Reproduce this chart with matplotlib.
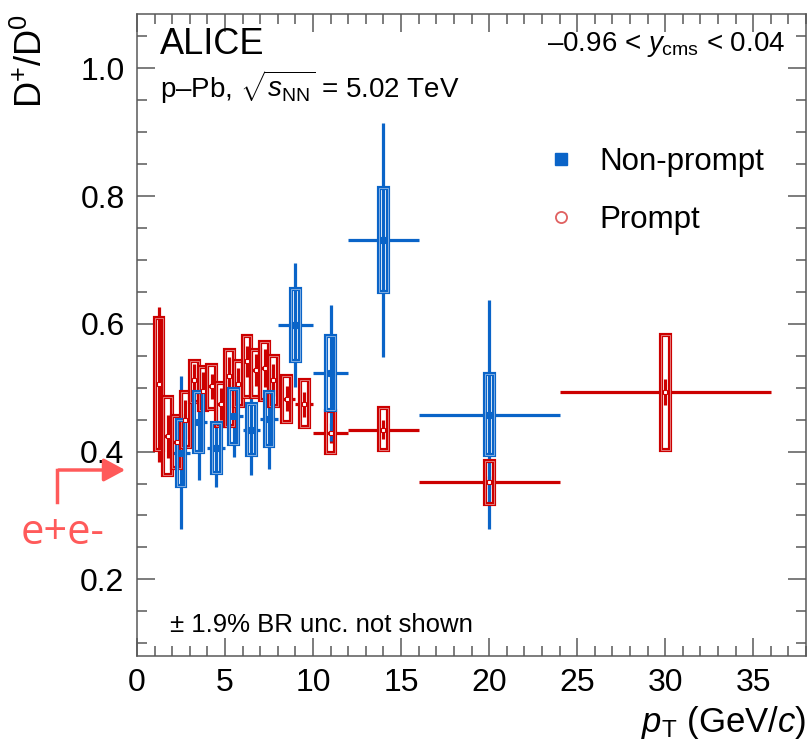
import matplotlib
matplotlib.use("Agg")
import matplotlib.pyplot as plt
from matplotlib.patches import Rectangle, FancyArrowPatch
from matplotlib.lines import Line2D
from matplotlib.ticker import MultipleLocator

plt.rcParams['font.family'] = ['Liberation Sans', 'DejaVu Sans']
plt.rcParams['mathtext.fontset'] = 'custom'
plt.rcParams['mathtext.rm'] = 'Liberation Sans'
plt.rcParams['mathtext.it'] = 'Liberation Sans:italic'

# prompt D+/D0
prompt_pt = [1.25, 1.75, 2.25, 2.75, 3.25, 3.75, 4.25, 4.75, 5.25, 5.75,
             6.25, 6.75, 7.25, 7.75, 8.5, 9.5, 11, 14, 20, 30]
prompt_xerr = [0.25] * 14 + [0.5, 0.5, 1, 2, 4, 6]
prompt_val = [0.505, 0.424, 0.415, 0.450, 0.512, 0.495, 0.502, 0.475, 0.518, 0.506,
              0.541, 0.528, 0.531, 0.512, 0.483, 0.474, 0.429, 0.434, 0.352, 0.493]
prompt_stat = [0.122, 0.034, 0.035, 0.030, 0.025, 0.030, 0.020, 0.025, 0.030, 0.025,
               0.024, 0.025, 0.030, 0.025, 0.020, 0.020, 0.015, 0.015, 0.010, 0.020]
prompt_sys_lo = [0.102, 0.060, 0.040, 0.043, 0.035, 0.030, 0.036, 0.035, 0.078, 0.035,
                 0.055, 0.042, 0.050, 0.041, 0.036, 0.036, 0.031, 0.032, 0.034, 0.090]
prompt_sys_hi = [0.104, 0.062, 0.040, 0.043, 0.030, 0.038, 0.034, 0.032, 0.041, 0.035,
                 0.040, 0.031, 0.041, 0.037, 0.036, 0.038, 0.034, 0.034, 0.034, 0.089]

# non-prompt D+/D0
nonprompt_pt = [2.5, 3.5, 4.5, 5.5, 6.5, 7.5, 9, 11, 14, 20]
nonprompt_xerr = [0.5] * 6 + [1, 1, 2, 4]
nonprompt_val = [0.398, 0.446, 0.405, 0.455, 0.434, 0.451, 0.598, 0.523, 0.731, 0.458]
nonprompt_stat = [0.120, 0.090, 0.060, 0.064, 0.070, 0.079, 0.097, 0.107, 0.183, 0.180]
nonprompt_sys = [0.052, 0.047, 0.039, 0.043, 0.040, 0.042, 0.057, 0.058, 0.081, 0.064]

blue = '#0a64c8'
red = '#cc0000'
box_w = 0.5


def draw_series(ax, pt, val, xerr, stat, sys_lo, sys_hi, color, marker, mfc, ms):
    ax.errorbar(pt, val, xerr=xerr, yerr=stat, fmt='none', ecolor=color,
                elinewidth=2.3, capsize=0, zorder=3)
    for x, y, lo, hi in zip(pt, val, sys_lo, sys_hi):
        ax.add_patch(Rectangle((x - box_w / 2, y - lo), box_w, lo + hi,
                               fill=False, edgecolor=color, lw=3.0, zorder=4))
        ax.add_patch(Rectangle((x - box_w / 2, y - lo), box_w, lo + hi,
                               fill=False, edgecolor='white', lw=0.6, alpha=0.55, zorder=4))
    ax.plot(pt, val, ls='none', marker=marker, ms=ms, mfc=mfc, mec=color,
            mew=0.8, zorder=5)


fig = plt.figure(figsize=(8.08, 7.56), dpi=100)
ax = fig.add_axes([0.1696, 0.1323, 0.8279, 0.8492])

draw_series(ax, prompt_pt, prompt_val, prompt_xerr, prompt_stat,
            prompt_sys_lo, prompt_sys_hi, red, 's', 'white', 3.5)
draw_series(ax, nonprompt_pt, nonprompt_val, nonprompt_xerr, nonprompt_stat,
            nonprompt_sys, nonprompt_sys, blue, 's', blue, 5)

ax.set_xlim(0, 38)
ax.set_ylim(0.08, 1.085)
ax.xaxis.set_major_locator(MultipleLocator(5))
ax.xaxis.set_minor_locator(MultipleLocator(1))
ax.yaxis.set_major_locator(MultipleLocator(0.2))
ax.yaxis.set_minor_locator(MultipleLocator(0.05))
ax.tick_params(which='both', direction='in', top=True, right=True,
               color='0.35', labelsize=23, pad=9)
ax.tick_params(which='major', length=13, width=1.1)
ax.tick_params(which='minor', length=7, width=1.1)
for s in ax.spines.values():
    s.set_color('0.35')
    s.set_linewidth(1.1)

ax.set_xlabel(r'$p_{\rm T}$ (GeV/$c$)', fontsize=25, loc='right')
ax.xaxis.set_label_coords(1.0, -0.075)
ax.set_ylabel(r'D$^{+}$/D$^{0}$', fontsize=26, loc='top')
ax.yaxis.set_label_coords(-0.13, 1.0)

ax.text(0.034, 0.952, 'ALICE', transform=ax.transAxes, fontsize=26, va='center')
ax.text(0.034, 0.885, r'p–Pb, $\sqrt{s_{\rm NN}}$ = 5.02 TeV', transform=ax.transAxes,
        fontsize=20, va='center')
ax.text(0.969, 0.952, r'–0.96 < $y_{\rm cms}$ < 0.04', transform=ax.transAxes,
        fontsize=20, va='center', ha='right')
ax.text(0.049, 0.048, '± 1.9% BR unc. not shown', transform=ax.transAxes,
        fontsize=18.5, va='center')

handles = [Line2D([], [], ls='none', marker='s', ms=8, mfc=blue, mec=blue),
           Line2D([], [], ls='none', marker='o', ms=8, mfc='white', mec='#e06060', mew=1.3)]
ax.legend(handles, ['Non-prompt', 'Prompt'], loc='upper left',
          bbox_to_anchor=(0.569, 0.837), frameon=False, fontsize=22.5,
          handlelength=1.0, handletextpad=0.7, labelspacing=0.9)

# e+e- annotation
salmon = '#ff5a5a'
fig.lines.append(Line2D([57 / 808, 57 / 808], [1 - 502 / 756, 1 - 470 / 756],
                        transform=fig.transFigure, color=salmon, lw=2.5))
fig.patches.append(FancyArrowPatch(
    (56 / 808, 1 - 470 / 756), (128 / 808, 1 - 470 / 756),
    transform=fig.transFigure, arrowstyle='-|>,head_length=13,head_width=7',
    color=salmon, lw=2.5, mutation_scale=1))
fig.text(63 / 808, 1 - 533 / 756, 'e+e-', color=salmon, fontsize=30,
         ha='center', va='center', family=['Open Sans', 'DejaVu Sans'])

fig.savefig('out.png', dpi=100)
